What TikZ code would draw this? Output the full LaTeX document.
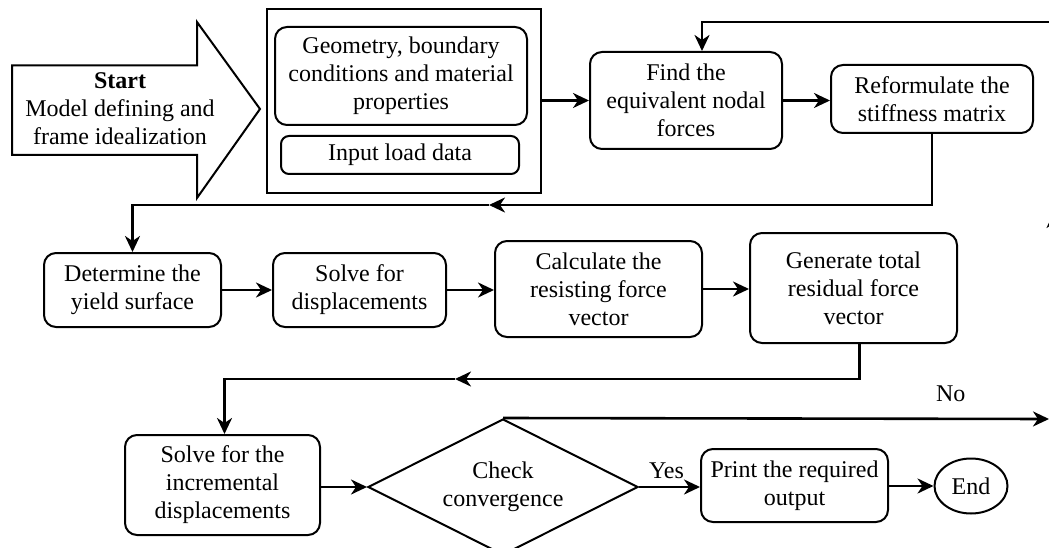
\documentclass[tikz,border=0pt]{standalone}
\usepackage{fontspec}
\setmainfont{Liberation Serif}
\usetikzlibrary{shapes.geometric, arrows.meta, positioning}

\begin{document}
\begin{tikzpicture}[
    x=1pt, y=-1pt, line join=miter,
    every node/.style={font=\fontsize{24}{28}\selectfont},
    box/.style={draw, rounded corners=12pt, line width=2pt, align=center, inner sep=0pt},
    line/.style={line width=2.6pt},
    arr/.style={line, -{Stealth[length=16pt, width=15pt, inset=5pt]}}
]
    \useasboundingbox (0,0) rectangle (1049,548);
    \clip (0,0) rectangle (1049,548);

    % start arrow
    \draw[line width=2pt] (12,65.5) -- (197,65.5) -- (197,22) -- (260,109) -- (197,198) -- (197,155) -- (12,155) -- cycle;
    \node[align=center] (start) at (120,109) {\textbf{Start}\\Model defining and\\frame idealization};

    % model data group
    \node[draw, line width=2pt, minimum width=274, minimum height=184, inner sep=0pt] (datagroup) at (404,101) {};
    \node[box, minimum width=252, minimum height=98] (geom) at (401,76) {Geometry, boundary\\conditions and material\\properties};
    \node[box, rounded corners=8pt, minimum width=238, minimum height=38] (load) at (400,155) {Input load data};

    % first row
    \node[box, minimum width=192, minimum height=97] (find) at (686,100.5) {Find the\\equivalent nodal\\forces};
    \node[box, minimum width=202, minimum height=68] (reform) at (932,99) {Reformulate the\\stiffness matrix};

    % second row
    \node[box, minimum width=177, minimum height=74] (determ) at (132.5,290) {Determine the\\yield surface};
    \node[box, minimum width=173, minimum height=74] (solve) at (359.5,290) {Solve for\\displacements};
    \node[box, minimum width=207, minimum height=96] (calc) at (598.5,289) {Calculate the\\resisting force\\vector};
    \node[box, minimum width=207, minimum height=110] (resid) at (853.5,288) {Generate total\\residual force\\vector};

    % third row
    \node[box, minimum width=195, minimum height=100] (incr) at (222.5,485) {Solve for the\\incremental\\displacements};
    \node[diamond, draw, line width=2pt, aspect=2, inner sep=0pt, minimum width=270, minimum height=136, align=center] (check) at (503,487) {Check\\convergence};
    \node[box, minimum width=187, minimum height=73] (print) at (794.5,485.5) {Print the required\\output};
    \node[ellipse, draw, line width=2pt, minimum width=73, minimum height=55, inner sep=0pt] (end) at (971,486) {End};

    % free ends outside the frame
    \coordinate (topR) at (1060,22);
    \coordinate (ret1) at (489,205);
    \coordinate (ret2) at (455,379);
    \coordinate (noR) at (1049,419);
    \coordinate (upB) at (1054,330);
    \coordinate (upT) at (1054,212);

    \draw[arr] (datagroup.east |- find.west) -- (find.west);
    \draw[arr] (find.east) -- (find.east -| reform.west);
    \draw[arr] (topR) -| ([xshift=16pt]find.north);

    \draw[arr] (reform.south) |- (ret1);
    \draw[arr] (ret1) -| (determ.north);
    \draw[arr] (determ) -- (determ -| solve.west);
    \draw[arr] (solve) -- (solve -| calc.west);
    \draw[arr] (calc) -- (calc -| resid.west);

    \draw[arr] ([xshift=6pt]resid.south) |- (ret2);
    \draw[arr] (ret2) -| ([xshift=2pt]incr.north);
    \draw[arr] (incr.east |- check.west) -- (check.west);
    \draw[arr] (check.east) -- node[above=4pt, xshift=-3pt] {Yes} (print.west |- check.east);
    \draw[arr] (print.east |- end.west) -- (end.west);
    \draw[arr] (check.north) -- node[above=12pt, pos=0.82] {No} (noR);
    \draw[arr] (upB) -- (upT);
\end{tikzpicture}
\end{document}
